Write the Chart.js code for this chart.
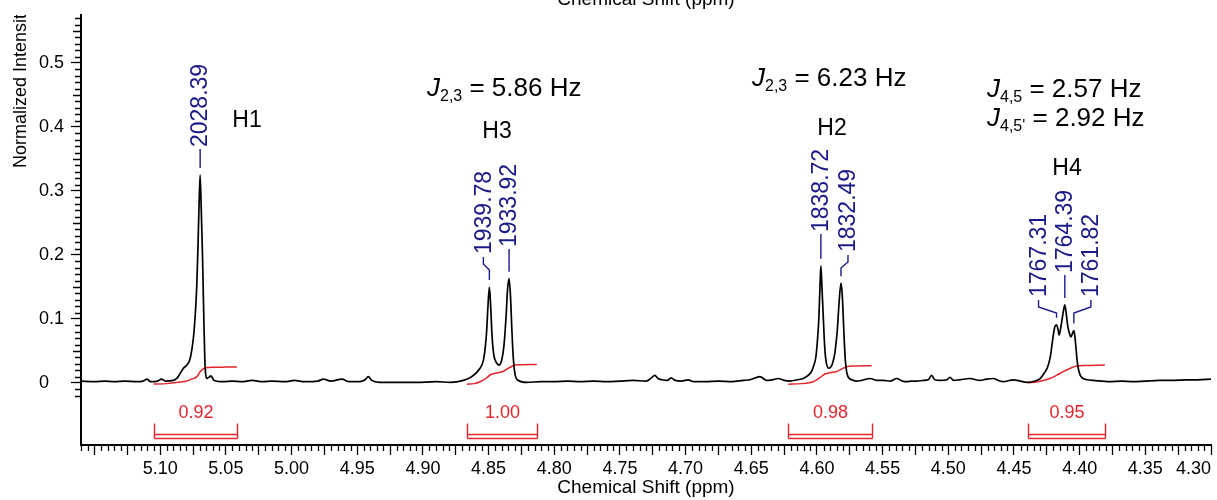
<!DOCTYPE html>
<html lang="en">
<head>
    <meta charset="UTF-8">
    <title>1H NMR spectrum</title>
    <style>
        html, body {
            margin: 0;
            padding: 0;
            background: #fff;
        }

        .chart-box {
            width: 1217px;
            height: 500px;
            position: relative;
        }
    </style>
    <script src="https://cdn.jsdelivr.net/npm/chart.js@4"></script>
</head>
<body>
<div class="chart-box"><canvas id="nmrChart"></canvas></div>

<script>
    // spectrum (ppm, normalized intensity)
    const specPpm = [
        5.1603, 5.1500, 5.1420, 5.1350, 5.1270, 5.1180, 5.1130, 5.1100, 5.1075, 5.1020,
        5.0990, 5.0960, 5.0900, 5.0870, 5.0848, 5.0823, 5.0797, 5.0775, 5.0759, 5.0745,
        5.0734, 5.0722, 5.0713, 5.0704, 5.0696, 5.0688, 5.0678, 5.0671, 5.0665, 5.0660,
        5.0655, 5.0645, 5.0628, 5.0614, 5.0600, 5.0589, 5.0518, 5.0450, 5.0380, 5.0300,
        5.0220, 5.0150, 5.0050, 4.9980, 4.9900, 4.9800, 4.9757, 4.9700, 4.9617, 4.9560,
        4.9480, 4.9440, 4.9415, 4.9390, 4.9330, 4.9200, 4.9050, 4.8900, 4.8793, 4.8692,
        4.8628, 4.8565, 4.8540, 4.8527, 4.8515, 4.8506, 4.8494, 4.8484, 4.8474, 4.8461,
        4.8438, 4.8420, 4.8400, 4.8385, 4.8375, 4.8365, 4.8356, 4.8344, 4.8333, 4.8322,
        4.8312, 4.8298, 4.8273, 4.8209, 4.8100, 4.8000, 4.7900, 4.7800, 4.7700, 4.7600,
        4.7500, 4.7400, 4.7300, 4.7260, 4.7235, 4.7210, 4.7180, 4.7140, 4.7110, 4.7080,
        4.7030, 4.6980, 4.6940, 4.6850, 4.6750, 4.6650, 4.6560, 4.6510, 4.6434, 4.6383,
        4.6340, 4.6295, 4.6250, 4.6205, 4.6150, 4.6104, 4.6060, 4.6041, 4.6020, 4.6008,
        4.5995, 4.5985, 4.5977, 4.5970, 4.5962, 4.5952, 4.5942, 4.5932, 4.5911, 4.5895,
        4.5881, 4.5865, 4.5855, 4.5846, 4.5838, 4.5830, 4.5817, 4.5808, 4.5802, 4.5793,
        4.5784, 4.5769, 4.5736, 4.5700, 4.5660, 4.5597, 4.5540, 4.5495, 4.5440, 4.5393,
        4.5350, 4.5318, 4.5280, 4.5241, 4.5190, 4.5153, 4.5127, 4.5102, 4.5060, 4.5010,
        4.4988, 4.4960, 4.4912, 4.4836, 4.4760, 4.4710, 4.4658, 4.4620, 4.4582, 4.4506,
        4.4450, 4.4404, 4.4328, 4.4300, 4.4278, 4.4250, 4.4232, 4.4218, 4.4206, 4.4189,
        4.4176, 4.4165, 4.4156, 4.4145, 4.4135, 4.4123, 4.4113, 4.4102, 4.4090, 4.4078,
        4.4067, 4.4055, 4.4044, 4.4036, 4.4029, 4.4020, 4.4011, 4.3995, 4.3973, 4.3940,
        4.3897, 4.3830, 4.3770, 4.3680, 4.3592, 4.3500, 4.3390, 4.3300, 4.3186, 4.3100,
        4.3000
    ];
    const specInt = [
        0.003, 0.002, 0.003, 0.002, 0.003, 0.002, 0.003, 0.006, 0.002, 0.003,
        0.006, 0.003, 0.004, 0.008, 0.015, 0.023, 0.028, 0.036, 0.052, 0.075,
        0.104, 0.150, 0.208, 0.280, 0.325, 0.275, 0.200, 0.130, 0.075, 0.035,
        0.016, 0.007, 0.009, 0.011, 0.007, 0.004, 0.002, 0.003, 0.002, 0.004,
        0.002, 0.003, 0.002, 0.004, 0.002, 0.003, 0.006, 0.003, 0.006, 0.002,
        0.002, 0.005, 0.010, 0.004, 0.001, 0.001, 0.001, 0.002, 0.001, 0.004,
        0.010, 0.023, 0.035, 0.052, 0.080, 0.115, 0.150, 0.120, 0.075, 0.045,
        0.031, 0.028, 0.036, 0.055, 0.078, 0.110, 0.145, 0.163, 0.135, 0.080,
        0.040, 0.013, 0.004, 0.001, 0.002, 0.002, 0.003, 0.002, 0.003, 0.002,
        0.003, 0.004, 0.003, 0.008, 0.012, 0.007, 0.005, 0.004, 0.008, 0.004,
        0.003, 0.005, 0.002, 0.002, 0.003, 0.002, 0.004, 0.005, 0.010, 0.004,
        0.005, 0.007, 0.004, 0.003, 0.005, 0.007, 0.013, 0.018, 0.030, 0.041,
        0.070, 0.104, 0.150, 0.183, 0.150, 0.104, 0.060, 0.036, 0.023, 0.025,
        0.031, 0.045, 0.062, 0.080, 0.105, 0.130, 0.156, 0.140, 0.114, 0.070,
        0.036, 0.013, 0.005, 0.003, 0.004, 0.007, 0.004, 0.004, 0.003, 0.007,
        0.003, 0.002, 0.003, 0.003, 0.004, 0.005, 0.012, 0.005, 0.004, 0.005,
        0.009, 0.004, 0.005, 0.007, 0.004, 0.006, 0.007, 0.004, 0.002, 0.005,
        0.003, 0.001, 0.004, 0.007, 0.013, 0.022, 0.033, 0.048, 0.067, 0.088,
        0.091, 0.084, 0.075, 0.085, 0.098, 0.113, 0.122, 0.108, 0.088, 0.078,
        0.072, 0.077, 0.082, 0.072, 0.057, 0.037, 0.023, 0.012, 0.007, 0.005,
        0.004, 0.003, 0.002, 0.003, 0.002, 0.003, 0.004, 0.004, 0.005, 0.005,
        0.006
    ];

    // integral curves (red)
    const intH1Ppm = [5.1051, 5.0950, 5.0860, 5.0797, 5.0760, 5.0721, 5.0696, 5.0665, 5.0630, 5.0594, 5.0500, 5.0416];
    const intH1Val = [-0.0016, -0.001, 0.001, 0.003, 0.006, 0.0099, 0.0177, 0.023, 0.0242, 0.0245, 0.0248, 0.025];
    const intH3Ppm = [4.8666, 4.8610, 4.8565, 4.8520, 4.8489, 4.8455, 4.8426, 4.8390, 4.8349, 4.8298, 4.8250, 4.8133];
    const intH3Val = [-0.002, -0.001, 0.002, 0.007, 0.0125, 0.015, 0.016, 0.018, 0.023, 0.028, 0.0285, 0.029];
    const intH2Ppm = [4.6218, 4.6120, 4.6028, 4.5980, 4.5939, 4.5900, 4.5850, 4.5810, 4.5774, 4.5720, 4.5584];
    const intH2Val = [-0.002, -0.001, 0.002, 0.008, 0.014, 0.016, 0.018, 0.022, 0.0255, 0.0265, 0.027];
    const intH4Ppm = [4.4392, 4.4320, 4.4227, 4.4175, 4.4126, 4.4070, 4.4024, 4.3960, 4.3808];
    const intH4Val = [0.000, 0.002, 0.007, 0.012, 0.0177, 0.023, 0.0265, 0.0275, 0.028];

    const integralFrom = [5.1051, 4.8666, 4.6218, 4.4392];
    const integralTo = [5.0416, 4.8133, 4.5584, 4.3808];
    const integralLabels = ['0.92', '1.00', '0.98', '0.95'];

    // peak picking labels (Hz)
    const peakHz = ['2028.39', '1939.78', '1933.92', '1838.72', '1832.49', '1767.31', '1764.39', '1761.82'];
    const peakPpm = [5.0696, 4.8494, 4.8344, 4.5970, 4.5817, 4.4176, 4.4113, 4.4044];

    const multipletNames = ['H1', 'H3', 'H2', 'H4'];
    const couplingSub = ['2,3', '2,3', '4,5', "4,5'"];
    const couplingHz = ['5.86', '6.23', '2.57', '2.92'];

    const xTickLabels = ['5.10', '5.05', '5.00', '4.95', '4.90', '4.85', '4.80', '4.75', '4.70', '4.65',
        '4.60', '4.55', '4.50', '4.45', '4.40', '4.35', '4.30'];
    const yTickLabels = ['0', '0.1', '0.2', '0.3', '0.4', '0.5'];

    const FONT = '"Liberation Sans", Arial, Helvetica, sans-serif';
    const RED = '#e3262d';
    const BLUE = '#1a1a88';

    // where the labels sit (pixels)
    const peakLabelLayout = [
        {dx: 0, bottom: 147}, {dx: -6, bottom: 254}, {dx: 0, bottom: 247}, {dx: 0, bottom: 232},
        {dx: 7, bottom: 252}, {dx: -18, bottom: 297}, {dx: 0, bottom: 273}, {dx: 17, bottom: 297}
    ];
    const multipletPos = [{x: 247, y: 127}, {x: 497, y: 138}, {x: 832, y: 135}, {x: 1067, y: 175}];
    const couplingPos = [{x: 427, y: 96}, {x: 752, y: 86}, {x: 987, y: 97}, {x: 987, y: 126}];

    function toPoints(xs, ys) {
        return xs.map((v, i) => ({x: v, y: ys[i]}));
    }

    function localMax(ppm) {
        let best = 0;
        specPpm.forEach((p, i) => {
            if (Math.abs(p - ppm) < 0.0008 && specInt[i] > best) best = specInt[i];
        });
        return best;
    }

    const minorTicks = {
        id: 'minorTicks',
        afterDraw(chart) {
            const {ctx, scales: {x, y}, chartArea} = chart;
            ctx.save();
            ctx.strokeStyle = '#000';
            ctx.lineWidth = 1.3;
            ctx.beginPath();
            for (let i = 0; 4.30 + i * 0.005 <= x.max + 1e-9; i++) {
                if (i % 5 === 0) continue;
                const px = Math.round(x.getPixelForValue(4.30 + i * 0.005)) + 0.5;
                ctx.moveTo(px, chartArea.bottom);
                ctx.lineTo(px, chartArea.bottom + 6);
            }
            for (let i = -2; i <= 57; i++) {
                if (i % 10 === 0) continue;
                const py = Math.round(y.getPixelForValue(i / 100)) + 0.5;
                const len = i % 5 === 0 ? 8 : 6;
                ctx.moveTo(chartArea.left - len, py);
                ctx.lineTo(chartArea.left, py);
            }
            ctx.stroke();
            ctx.restore();
        }
    };

    const annotations = {
        id: 'nmrAnnotations',
        afterDraw(chart) {
            const {ctx, scales: {x, y}, chartArea} = chart;
            ctx.save();

            // peak labels with leader lines
            ctx.strokeStyle = BLUE;
            ctx.fillStyle = BLUE;
            ctx.lineWidth = 1.4;
            ctx.font = `23px ${FONT}`;
            peakPpm.forEach((p, i) => {
                const px = x.getPixelForValue(p);
                const top = y.getPixelForValue(localMax(p));
                const lx = px + peakLabelLayout[i].dx;
                const tb = peakLabelLayout[i].bottom;
                ctx.beginPath();
                if (peakLabelLayout[i].dx === 0) {
                    ctx.moveTo(px, top - 7);
                    ctx.lineTo(px, tb + 2);
                } else {
                    ctx.moveTo(px, Math.max(top - 7, tb + 16));
                    ctx.lineTo(px, tb + 16);
                    ctx.lineTo(lx, tb + 10);
                    ctx.lineTo(lx, tb + 3);
                }
                ctx.stroke();
                ctx.save();
                ctx.translate(lx, tb);
                ctx.rotate(-Math.PI / 2);
                ctx.textAlign = 'left';
                ctx.textBaseline = 'middle';
                ctx.fillText(peakHz[i], 0, 1);
                ctx.restore();
            });

            // multiplet names
            ctx.fillStyle = '#000';
            ctx.font = `23px ${FONT}`;
            ctx.textAlign = 'center';
            ctx.textBaseline = 'alphabetic';
            multipletNames.forEach((n, i) => ctx.fillText(n, multipletPos[i].x, multipletPos[i].y));

            // coupling constants
            couplingHz.forEach((hz, i) => {
                let cx = couplingPos[i].x;
                const base = couplingPos[i].y;
                ctx.textAlign = 'left';
                ctx.font = `italic 26px ${FONT}`;
                ctx.fillText('J', cx, base);
                cx += ctx.measureText('J').width;
                ctx.font = `16px ${FONT}`;
                ctx.fillText(couplingSub[i], cx, base + 5);
                cx += ctx.measureText(couplingSub[i]).width;
                ctx.font = `26px ${FONT}`;
                ctx.fillText(' = ' + hz + ' Hz', cx, base);
            });

            // integral brackets
            ctx.strokeStyle = RED;
            ctx.fillStyle = RED;
            ctx.lineWidth = 1.4;
            integralFrom.forEach((a, i) => {
                const x1 = Math.round(x.getPixelForValue(a)) + 0.5;
                const x2 = Math.round(x.getPixelForValue(integralTo[i])) + 0.5;
                const yTop = Math.round(y.getPixelForValue(-0.063)) + 0.5;
                const yMid = Math.round(y.getPixelForValue(-0.0797)) + 0.5;
                const yBot = Math.round(y.getPixelForValue(-0.0855)) + 0.5;
                ctx.beginPath();
                ctx.moveTo(x1, yTop); ctx.lineTo(x1, yBot);
                ctx.moveTo(x2, yTop); ctx.lineTo(x2, yBot);
                ctx.moveTo(x1, yMid); ctx.lineTo(x2, yMid);
                ctx.moveTo(x1, yBot); ctx.lineTo(x2, yBot);
                ctx.stroke();
                ctx.font = `18px ${FONT}`;
                ctx.textAlign = 'center';
                ctx.textBaseline = 'middle';
                ctx.fillText(integralLabels[i], (x1 + x2) / 2, y.getPixelForValue(-0.047));
            });

            // axis titles that get cut off at the top
            ctx.fillStyle = '#000';
            ctx.textBaseline = 'alphabetic';
            ctx.font = `19px ${FONT}`;
            ctx.textAlign = 'center';
            ctx.fillText('Chemical Shift (ppm)', (chartArea.left + chartArea.right) / 2, 5);

            ctx.save();
            ctx.beginPath();
            ctx.rect(0, chartArea.top, chartArea.left, chart.height);
            ctx.clip();
            ctx.translate(25.5, 168);
            ctx.rotate(-Math.PI / 2);
            ctx.textAlign = 'left';
            ctx.font = `18px ${FONT}`;
            ctx.fillText('Normalized Intensity', 0, 0);
            ctx.restore();

            ctx.restore();
        }
    };

    Chart.defaults.font.family = FONT;
    Chart.defaults.color = '#000';

    const curve = (data, color, width) => ({
        data: data,
        borderColor: color,
        borderWidth: width,
        pointRadius: 0,
        fill: false,
        cubicInterpolationMode: 'monotone'
    });

    new Chart(document.getElementById('nmrChart'), {
        type: 'line',
        data: {
            datasets: [
                curve(toPoints(specPpm, specInt), '#000', 1.7),
                curve(toPoints(intH1Ppm, intH1Val), RED, 1.5),
                curve(toPoints(intH3Ppm, intH3Val), RED, 1.5),
                curve(toPoints(intH2Ppm, intH2Val), RED, 1.5),
                curve(toPoints(intH4Ppm, intH4Val), RED, 1.5)
            ]
        },
        options: {
            responsive: true,
            maintainAspectRatio: false,
            animation: false,
            layout: {padding: {left: 39, right: 6, top: 15, bottom: 0}},
            plugins: {
                legend: {display: false},
                tooltip: {enabled: false}
            },
            scales: {
                x: {
                    type: 'linear',
                    reverse: true,
                    min: 4.30,
                    max: 5.1603,
                    afterBuildTicks: (scale) => {
                        const t = [];
                        for (let i = 0; 4.30 + i * 0.025 <= scale.max + 1e-9; i++) {
                            t.push({value: +(4.30 + i * 0.025).toFixed(3)});
                        }
                        scale.ticks = t;
                    },
                    afterFit: (scale) => {
                        scale.height = 55;
                        scale.paddingLeft = 0;
                        scale.paddingRight = 0;
                    },
                    ticks: {
                        autoSkip: false,
                        maxRotation: 0,
                        align: 'inner',
                        padding: 3,
                        font: {size: 18},
                        callback: (v) => {
                            const s = Number(v).toFixed(2);
                            return xTickLabels.includes(s) && Math.round(v * 1000) % 50 === 0 ? s : '';
                        }
                    },
                    grid: {
                        drawOnChartArea: false,
                        tickLength: 10,
                        tickColor: '#000',
                        tickWidth: 1.3
                    },
                    border: {color: '#000', width: 2},
                    title: {
                        display: true,
                        text: 'Chemical Shift (ppm)',
                        font: {size: 19},
                        padding: {top: 0, bottom: 1}
                    }
                },
                y: {
                    type: 'linear',
                    min: -0.0969,
                    max: 0.575,
                    afterBuildTicks: (scale) => {
                        scale.ticks = yTickLabels.map(s => ({value: parseFloat(s)}));
                    },
                    afterFit: (scale) => {
                        scale.width = 42;
                        scale.paddingTop = 0;
                        scale.paddingBottom = 0;
                    },
                    ticks: {
                        crossAlign: 'far',
                        padding: 6,
                        font: {size: 18},
                        callback: (v) => yTickLabels.find(s => Math.abs(parseFloat(s) - v) < 1e-6) || ''
                    },
                    grid: {
                        drawOnChartArea: false,
                        tickLength: 10,
                        tickColor: '#000',
                        tickWidth: 1.3
                    },
                    border: {color: '#000', width: 2}
                }
            }
        },
        plugins: [minorTicks, annotations]
    });
</script>

</body>
</html>
